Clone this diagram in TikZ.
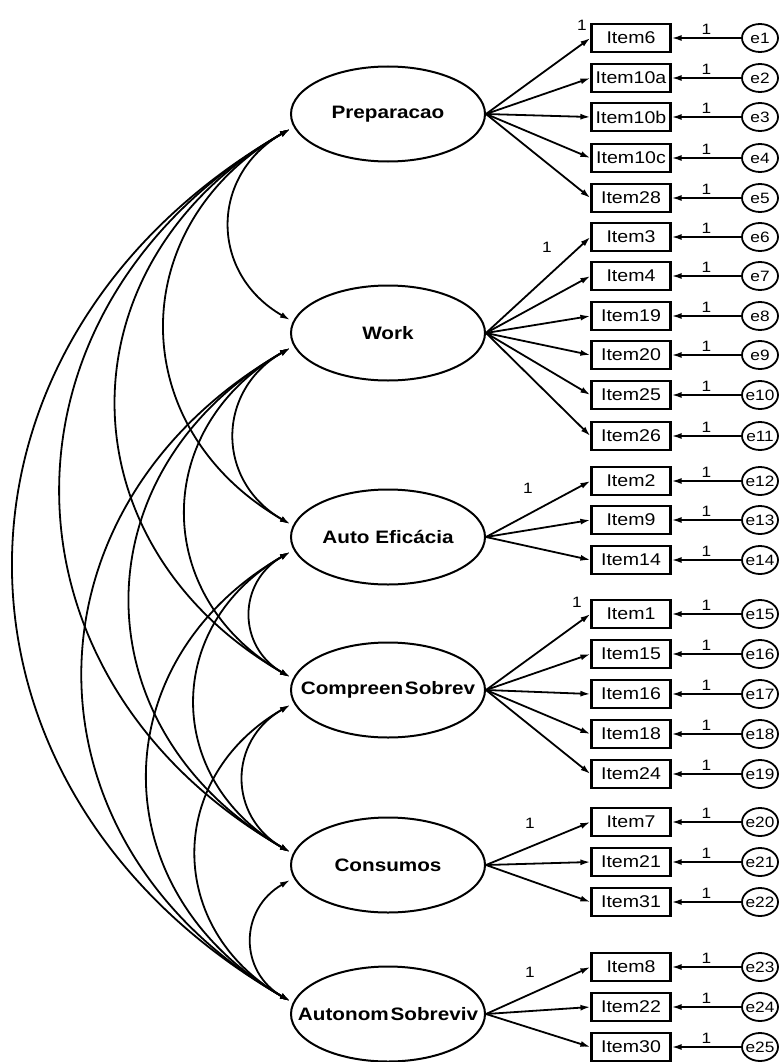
\documentclass[tikz,border=0pt]{standalone}
\usepackage{fontspec}
\setmainfont{Liberation Sans}[FakeStretch=1.15]
\usetikzlibrary{arrows.meta,shapes.geometric}
\begin{document}
\begin{tikzpicture}[x=1pt,y=1pt,
  factor/.style={ellipse,draw,line width=2pt,minimum width=194pt,minimum height=95pt,inner sep=0pt,font=\fontsize{18}{21}\selectfont\bfseries},
  item/.style={rectangle,draw,line width=2.2pt,minimum width=79pt,minimum height=28pt,inner sep=0pt,font=\fontsize{17}{19}\selectfont},
  err/.style={ellipse,draw,line width=1.8pt,minimum width=36pt,minimum height=28pt,inner sep=0pt,font=\fontsize{15}{17}\selectfont},
  lbl/.style={font=\fontsize{15}{17}\selectfont,inner sep=1pt},
  load/.style={line width=1.8pt,-{Latex[length=10pt,width=6pt]}},
  cov/.style={line width=1.8pt,{Latex[length=10pt,width=6pt]}-{Latex[length=10pt,width=6pt]},bend right=60,looseness=1.25},
]
\useasboundingbox (0,0) rectangle (780,-1062);

% factors
\node[factor] (P) at (388,-114) {\makebox[0pt]{Preparacao}};
\node[factor] (W) at (388,-333) {\makebox[0pt]{Work}};
\node[factor] (A) at (388,-537) {\makebox[0pt]{Auto Eficácia}};
\node[factor] (C) at (388,-690) {\makebox[0pt]{Compreen\hspace{0.1em}Sobrev}};
\node[factor] (N) at (388,-865) {\makebox[0pt]{Consumos}};
\node[factor] (S) at (388,-1014) {\makebox[0pt]{Autonom\hspace{0.1em}Sobreviv}};

% items, errors, loadings
\foreach \k/\txt/\y/\f in {
  1/Item6/38/P, 2/Item10a/78/P, 3/Item10b/117/P, 4/Item10c/158/P, 5/Item28/198/P,
  6/Item3/237/W, 7/Item4/276/W, 8/Item19/316/W, 9/Item20/355/W, 10/Item25/395/W, 11/Item26/436/W,
  12/Item2/481/A, 13/Item9/520/A, 14/Item14/560/A,
  15/Item1/614/C, 16/Item15/654/C, 17/Item16/694/C, 18/Item18/734/C, 19/Item24/774/C,
  20/Item7/822/N, 21/Item21/862/N, 22/Item31/902/N,
  23/Item8/967/S, 24/Item22/1007/S, 25/Item30/1047/S}{
  \node[item] (I\k) at (631,-\y) {\txt};
  \node[err] (E\k) at (760,-\y) {\makebox[0pt]{e\k}};
  \draw[load] (\f.east) -- (I\k.west);
  \draw[load] (E\k.west) -- node[lbl,midway,above=2pt] {1} (I\k.east);
}

% fixed loading labels
\node[lbl] (L1) at (582,-25) {1};
\node[lbl] (L6) at (547,-247) {1};
\node[lbl] (L12) at (528,-488) {1};
\node[lbl] (L15) at (577,-602) {1};
\node[lbl] (L20) at (530,-823) {1};
\node[lbl] (L23) at (530,-972) {1};

% covariances
\foreach \a/\b in {P/W,P/A,P/C,P/N,P/S,W/A,W/C,W/N,W/S,A/C,A/N,A/S,C/N,C/S,N/S}
  \draw[cov] ([yshift=-15pt]\a.west) to ([yshift=13pt]\b.west);
\end{tikzpicture}
\end{document}
